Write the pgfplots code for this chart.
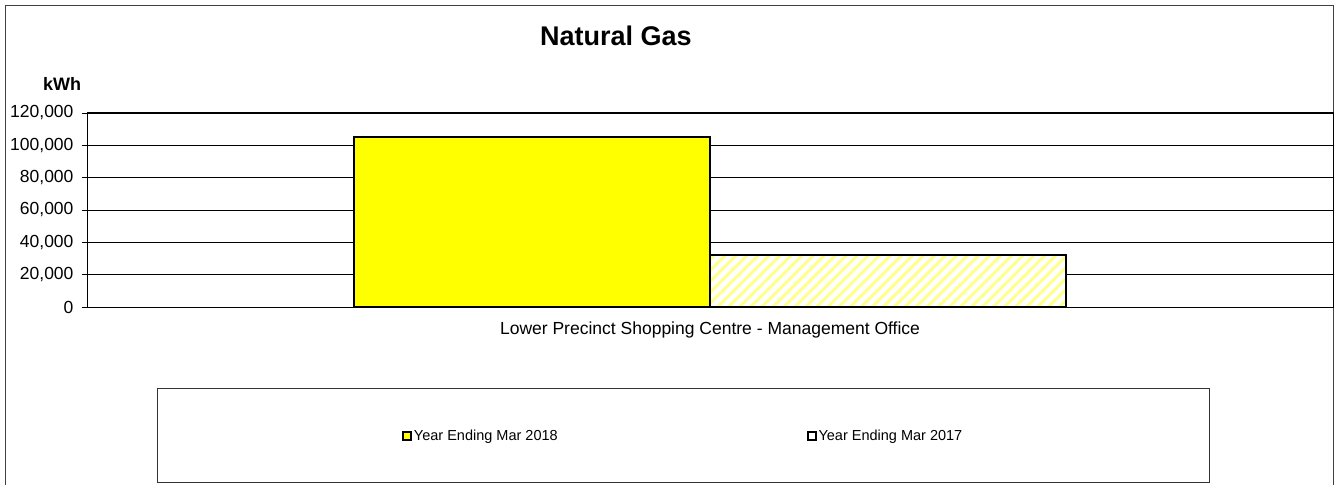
\documentclass[border=0pt]{standalone}
\usepackage{fontspec}
\setmainfont{Liberation Sans}
\usepackage{pgfplots}
\pgfplotsset{compat=1.18}
\usetikzlibrary{patterns.meta}
\definecolor{barY}{RGB}{255,255,0}
\definecolor{hatchY}{RGB}{255,255,140}
\begin{document}
\begin{tikzpicture}[x=1pt,y=1pt]
\useasboundingbox (0,0) rectangle (1337,484);
\draw[black!75, line width=1pt] (5,-5) -- (5,478) -- (1333,478) -- (1333,-5);
\node[font=\fontsize{27}{30}\selectfont\bfseries, anchor=base, inner sep=0pt] at (616,438) {Natural Gas};
\node[font=\fontsize{18}{20}\selectfont\bfseries, anchor=base, inner sep=0pt] at (62,393) {kWh};
\begin{axis}[
  at={(87pt,177pt)}, anchor=south west,
  scale only axis, width=1246pt, height=194pt,
  xmin=-0.5, xmax=0.5, ymin=0, ymax=120000,
  ytick={0,20000,40000,60000,80000,100000,120000},
  scaled y ticks=false,
  ymajorgrids, grid style={black, line width=0.8pt},
  axis line style={black, line width=1pt},
  tick style={black, line width=0.8pt},
  tick align=outside, major tick length=5pt,
  ytick pos=left, xtick pos=bottom,
  /pgf/number format/assume math mode=true,
  yticklabel style={font=\fontsize{17.5}{19}\selectfont, xshift=-5pt, /pgf/number format/.cd, fixed, 1000 sep={,}},
  xtick={0}, xticklabels={Lower Precinct Shopping Centre - Management Office},
  xticklabel style={font=\fontsize{17.5}{19}\selectfont, yshift=-6pt},
  x tick style={draw=none},
  extra x ticks={-0.5,0.5}, extra x tick labels={},
  extra x tick style={tick style={draw=black, line width=0.8pt}},
  legend style={at={(0.4785,-0.663)}, anchor=center, draw=black!80, line width=1pt,
    inner xsep=245pt, inner ysep=39pt,
    font=\fontsize{14.5}{16}\selectfont,
    /tikz/every even column/.append style={column sep=247pt}},
  legend columns=2,
]
\addplot[ybar, bar width=356pt, bar shift=-178pt, fill=barY, draw=black, line width=2pt,
  legend image code/.code={\draw[fill=barY, draw=black, line width=1.8pt] (0pt,-4pt) rectangle (8pt,4pt);}]
  coordinates {(0,105000)};
\addlegendentry{Year Ending Mar 2018}
\addplot[ybar, bar width=356pt, bar shift=178pt, draw=black, line width=2pt,
  preaction={fill=white},
  pattern={Lines[angle=45,distance=7.8pt,line width=3pt]}, pattern color=hatchY,
  legend image code/.code={\draw[fill=white, draw=black, line width=1.8pt] (0pt,-4pt) rectangle (8pt,4pt);}]
  coordinates {(0,32000)};
\addlegendentry{Year Ending Mar 2017}
\end{axis}
\end{tikzpicture}
\end{document}
